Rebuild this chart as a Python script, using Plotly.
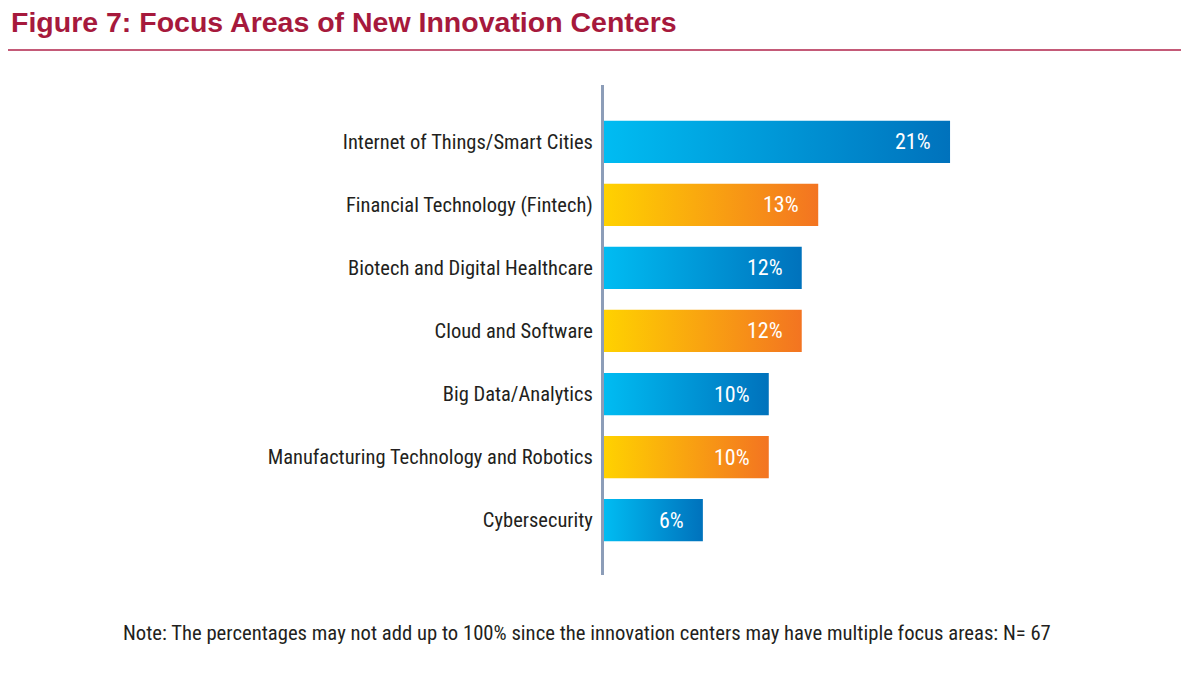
import plotly.graph_objects as go

categories = [
    "Internet of Things/Smart Cities",
    "Financial Technology (Fintech)",
    "Biotech and Digital Healthcare",
    "Cloud and Software",
    "Big Data/Analytics",
    "Manufacturing Technology and Robotics",
    "Cybersecurity",
]
values = [21, 13, 12, 12, 10, 10, 6]
labels = ["21%", "13%", "12%", "12%", "10%", "10%", "6%"]
palette = ["blue", "orange", "blue", "orange", "blue", "orange", "blue"]

gradients = {
    "blue": [[0, "#00BCF2"], [1, "#0072BC"]],
    "orange": [[0, "#FFD200"], [1, "#F37421"]],
}

COND = "Liberation Sans Narrow, Arial Narrow, Roboto Condensed, sans-serif"
half = 0.335

# page offset (body margin) compensation
OFF = 8
L, T, W, H = 604 - OFF, 85 - OFF, 496, 490
B = 675 - T - H
R = 1200 - L - W


def px(xp):
    return (xp - OFF - L) / W


def py(yp):
    return (T + H - (yp - OFF)) / H


fig = go.Figure()
for i, (cat, v, c) in enumerate(zip(categories, values, palette)):
    fig.add_trace(go.Scatter(
        x=[0, v, v, 0, 0],
        y=[i - half, i - half, i + half, i + half, i - half],
        mode="lines",
        line=dict(width=0),
        fill="toself",
        fillgradient=dict(type="horizontal", colorscale=gradients[c]),
        name=cat,
        hoverinfo="skip",
        showlegend=False,
    ))
    fig.add_annotation(
        x=v, y=i, xref="x", yref="y", text=labels[i], showarrow=False,
        xanchor="right", xshift=-17,
        font=dict(family=COND, size=22, color="white"),
    )

fig.update_layout(
    width=1200, height=675,
    paper_bgcolor="white", plot_bgcolor="white",
    margin=dict(l=L, r=R, t=T, b=B),
    xaxis=dict(range=[0, 30.1], visible=False, fixedrange=True),
    yaxis=dict(
        range=[6.87, -0.9],
        tickmode="array", tickvals=list(range(len(categories))), ticktext=categories,
        showgrid=False, zeroline=False,
        showline=True, linecolor="#8C9DB8", linewidth=3,
        ticks="", ticklabelstandoff=4,
        tickfont=dict(family=COND, size=20.5, color="#231F20"),
    ),
    title=dict(
        text="<b>Figure 7: Focus Areas of New Innovation Centers</b>",
        x=3 / 1200, xanchor="left", y=1.0 - 4 / 675, yanchor="top",
        pad=dict(t=0, b=0, l=0, r=0),
        font=dict(family="Liberation Sans, Arial, sans-serif", size=28.5, color="#A6193C"),
    ),
)

fig.add_shape(
    type="line", xref="paper", yref="paper",
    x0=px(8), x1=px(1181),
    y0=py(50), y1=py(50),
    line=dict(color="#C45A78", width=2),
)

fig.add_annotation(
    xref="paper", yref="paper",
    x=px(587), y=py(633),
    text="Note: The percentages may not add up to 100% since the innovation centers may have multiple focus areas: N= 67",
    showarrow=False, xanchor="center", yanchor="middle",
    font=dict(family=COND, size=20.7, color="#231F20"),
)

fig.write_html("out.html")
